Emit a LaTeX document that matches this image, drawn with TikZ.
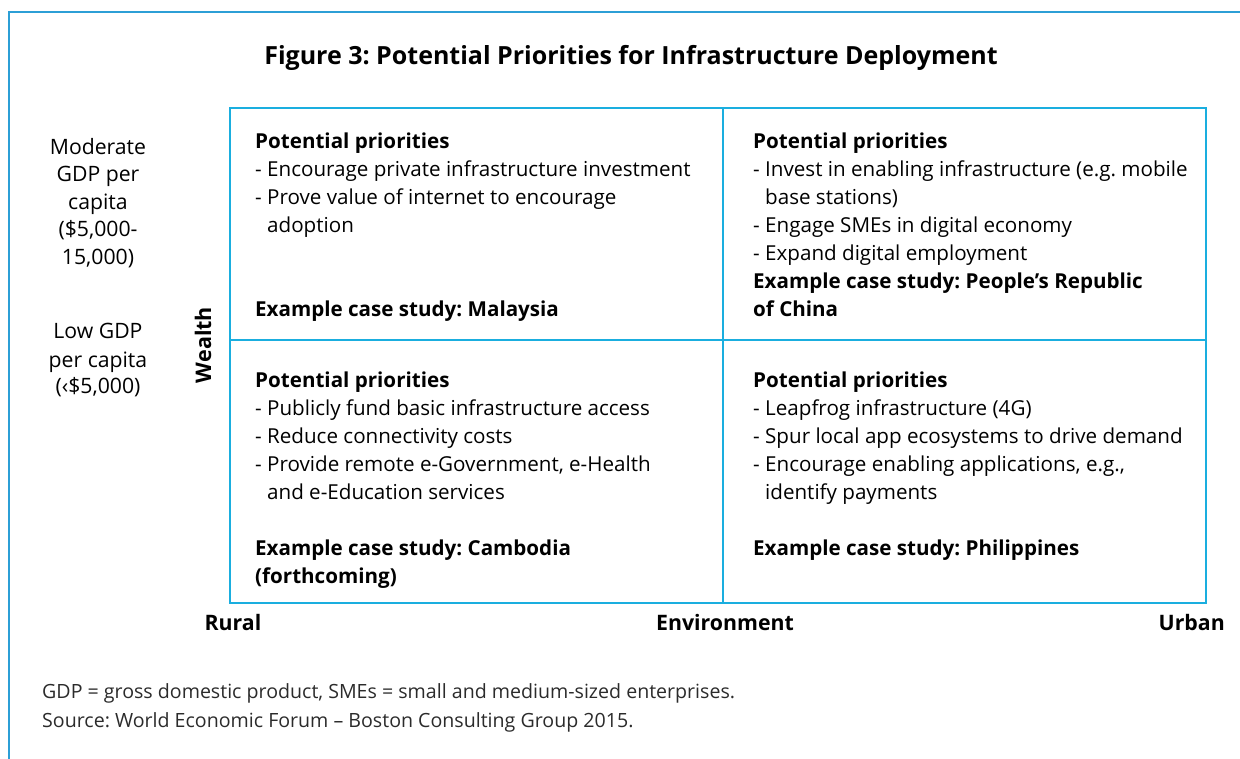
\documentclass[tikz,border=0pt]{standalone}
\usepackage{fontspec}
\setmainfont{Open Sans}
\definecolor{gridc}{HTML}{1AAEDF}
\definecolor{framec}{HTML}{2C9FD6}
\definecolor{footc}{HTML}{2B2B2B}
\newcommand{\ind}{\hphantom{-\ }}
\frenchspacing
\begin{document}
\frenchspacing
\begin{tikzpicture}[x=1pt,y=-1pt,
  line/.style={anchor=base west, inner sep=0pt, font=\fontsize{20.6}{28}\selectfont},
  bline/.style={line, font=\fontsize{20.6}{28}\selectfont\bfseries},
  side/.style={anchor=base, inner sep=0pt, font=\fontsize{21.2}{28}\selectfont},
  axis/.style={anchor=base, inner sep=0pt, font=\fontsize{21.3}{28}\selectfont\bfseries},
  foot/.style={anchor=base west, inner sep=0pt, text=footc, font=\fontsize{19.6}{26}\selectfont},
  gridline/.style={draw=gridc, line width=2pt},
  frameline/.style={draw=framec, line width=1.5pt}
]
\useasboundingbox (0,0) rectangle (1240,759);
% outer frame (open right and bottom)
\draw[frameline] (9,759) -- (9,12) -- (1240,12);
% grid
\coordinate (TL) at (230,108);
\coordinate (BR) at (1206,603);
\coordinate (MT) at (723,108);
\coordinate (MB) at (723,603);
\coordinate (ML) at (230,340);
\coordinate (MR) at (1206,340);
\draw[gridline] (TL) rectangle (BR);
\draw[gridline] (MT) -- (MB);
\draw[gridline] (ML) -- (MR);
% title
\node[anchor=center, inner sep=0pt, font=\fontsize{25}{30}\selectfont\bfseries] (title) at (631,58) {Figure 3: Potential Priorities for Infrastructure Deployment};
% side labels
\foreach \y/\t [count=\i] in {155/Moderate, 182/GDP per, 210/capita, 237/{(\$5,000-}, 265/{15,000)}, 339/Low GDP, 367/per capita, 393/{(‹\$5,000)}}
  \node[side] (side\i) at (98,\y) {\t};
\node[rotate=90, anchor=center, inner sep=0pt, font=\fontsize{21.5}{28}\selectfont\bfseries] (wealth) at (203,345) {Wealth};
% top-left cell
\node[bline] (tl1) at (255,149) {Potential priorities};
\foreach \y/\t [count=\i] in {177/- Encourage private infrastructure investment, 205/- Prove value of internet to encourage, 233/\ind adoption}
  \node[line] (tlb\i) at (255,\y) {\t};
\node[bline] (tlx) at (255,317) {Example case study: Malaysia};
% top-right cell
\node[bline] (tr1) at (753,149) {Potential priorities};
\foreach \y/\t [count=\i] in {177/- Invest in enabling infrastructure (e.g. mobile, 205/\ind base stations), 233/- Engage SMEs in digital economy, 261/- Expand digital employment}
  \node[line] (trb\i) at (753,\y) {\t};
\node[bline] (trx1) at (753,289) {Example case study: People’s Republic};
\node[bline] (trx2) at (753,317) {of China};
% bottom-left cell
\node[bline] (bl1) at (255,387) {Potential priorities};
\foreach \y/\t [count=\i] in {415/- Publicly fund basic infrastructure access, 443/- Reduce connectivity costs, 471/{- Provide remote e-Government, e-Health}, 499/\ind and e-Education services}
  \node[line] (blb\i) at (255,\y) {\t};
\node[bline] (blx1) at (255,555) {Example case study: Cambodia};
\node[bline] (blx2) at (255,583) {(forthcoming)};
% bottom-right cell
\node[bline] (br1) at (753,387) {Potential priorities};
\foreach \y/\t [count=\i] in {415/- Leapfrog infrastructure (4G), 443/- Spur local app ecosystems to drive demand, 471/{- Encourage enabling applications, e.g.,}, 499/\ind identify payments}
  \node[line] (brb\i) at (753,\y) {\t};
\node[bline] (brx) at (753,555) {Example case study: Philippines};
% axis labels
\node[axis] (rural) at (233,630) {Rural};
\node[axis] (env) at (725,630) {Environment};
\node[axis, anchor=base east] (urban) at (1225,630) {Urban};
% footnotes
\node[foot] (fn1) at (42,698) {GDP = gross domestic product, SMEs = small and medium-sized enterprises.};
\node[foot] (fn2) at (42,727) {Source: World Economic Forum – Boston Consulting Group 2015.};
\end{tikzpicture}
\end{document}
